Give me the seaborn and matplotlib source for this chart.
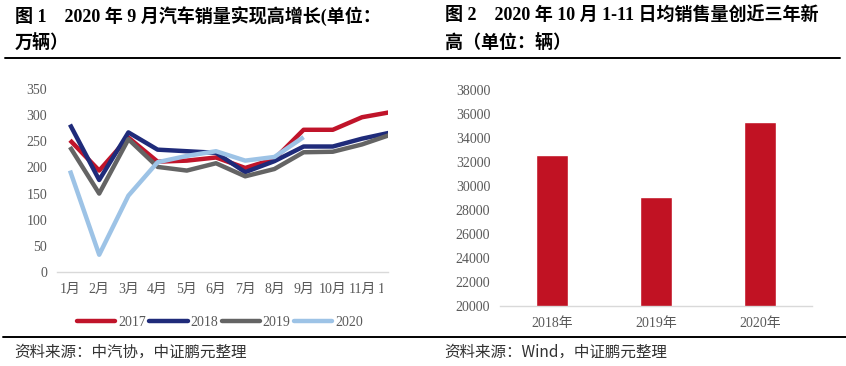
import numpy as np
import pandas as pd
import matplotlib
matplotlib.use("Agg")
import matplotlib.pyplot as plt
import seaborn as sns
from matplotlib.transforms import offset_copy, Bbox, TransformedBbox
from matplotlib.lines import Line2D

# ---------------- data ----------------
months = ["1月", "2月", "3月", "4月", "5月", "6月", "7月", "8月", "9月", "10月", "11月", "12月"]
years = ["2017", "2018", "2019", "2020"]
sales_2017 = [252, 194, 257, 211, 213, 219, 199, 216, 272, 272, 296, 306]
sales_2018 = [282, 176, 267, 234, 231, 228, 191, 212, 240, 240, 255, 267]
sales_2019 = [239, 150, 254, 201, 194, 208, 183, 197, 229, 230, 244, 263]
sales_2020 = [194, 33, 146, 210, 222, 231, 213, 220, 258]

bar_years = ["2018年", "2019年", "2020年"]
bar_values = [32600, 29100, 35300]

title1_l1 = "图 1　2020 年 9 月汽车销量实现高增长(单位："
title1_l2 = "万辆）"
title2_l1 = "图 2　2020 年 10 月 1-11 日均销售量创近三年新"
title2_l2 = "高（单位：辆）"
source1 = "资料来源：中汽协，中证鹏元整理"
source2 = "资料来源：Wind，中证鹏元整理"

colors = {"2017": "#C0142A", "2018": "#1F2B7A", "2019": "#646464", "2020": "#9DC3E6"}
bar_color = "#C11223"
tick_color = "#595959"

sns.set_theme(style="white")
plt.rcParams["font.family"] = ["Liberation Serif", "Noto Sans CJK SC", "DejaVu Sans"]
TICKFONT = ["Liberation Serif", "Noto Sans CJK SC"]

W, H = 846, 366
fig = plt.figure(figsize=(W / 100, H / 100), dpi=100)

def fx(px):
    return px / W

def fy(py):
    return 1 - py / H

# ---------------- left line chart ----------------
rows = []
for y, vals in zip(years, [sales_2017, sales_2018, sales_2019, sales_2020]):
    for i, v in enumerate(vals):
        rows.append({"idx": i, "value": v, "year": y})
df = pd.DataFrame(rows)

axL = fig.add_axes([fx(57), fy(272), fx(388) - fx(57), fy(89) - fy(272)])
sns.lineplot(data=df, x="idx", y="value", hue="year", palette=colors,
             linewidth=3.2, ax=axL, legend=False, sort=False)
for ln in axL.lines:
    ln.set_solid_capstyle("butt")
axL.set_xlim(-0.445, 10.89)
axL.set_ylim(0, 350)
axL.set_yticks(range(0, 351, 50))
axL.set_xticks(range(11))
axL.set_xticklabels(months[:11])
axL.set_xlabel("")
axL.set_ylabel("")
for s in ["top", "right", "left"]:
    axL.spines[s].set_visible(False)
axL.spines["bottom"].set_color("#D9D9D9")
axL.spines["bottom"].set_linewidth(1.0)
axL.tick_params(axis="both", length=0, labelsize=10, labelcolor=tick_color)
axL.tick_params(axis="y", pad=7)
axL.tick_params(axis="x", pad=8)
for lab in axL.get_xticklabels() + axL.get_yticklabels():
    lab.set_fontfamily(TICKFONT)

# clipped last month label
t12 = axL.text(11, 0, months[11],
               transform=offset_copy(axL.get_xaxis_transform(), fig=fig, y=-8, units="points"),
               ha="center", va="top", fontsize=10, color=tick_color, family=TICKFONT)
t12.set_clip_box(TransformedBbox(Bbox([[0, 0], [fx(383), 1]]), fig.transFigure))
t12.set_clip_on(True)

handles = [Line2D([0], [0], color=colors[y], lw=3.2) for y in years]
leg = fig.legend(handles, years, loc="center", bbox_to_anchor=(fx(220), fy(322)),
                 ncol=4, frameon=False, handlelength=2.75, handletextpad=0.2,
                 columnspacing=0.25, borderpad=0, prop={"family": TICKFONT, "size": 10})
for t in leg.get_texts():
    t.set_color(tick_color)

# ---------------- right bar chart ----------------
dfb = pd.DataFrame({"year": bar_years, "value": bar_values})
axR = fig.add_axes([fx(500), fy(306), fx(812) - fx(500), fy(90) - fy(306)])
sns.barplot(data=dfb, x="year", y="value", color=bar_color, width=0.31,
            saturation=1, ax=axR)
axR.set_ylim(20000, 38000)
axR.set_yticks(range(20000, 38001, 2000))
axR.set_xlabel("")
axR.set_ylabel("")
for s in ["top", "right", "left"]:
    axR.spines[s].set_visible(False)
axR.spines["bottom"].set_color("#D9D9D9")
axR.spines["bottom"].set_linewidth(1.0)
axR.tick_params(axis="both", length=0, labelsize=10, labelcolor=tick_color)
axR.tick_params(axis="y", pad=7)
axR.tick_params(axis="x", pad=8)
for lab in axR.get_xticklabels() + axR.get_yticklabels():
    lab.set_fontfamily(TICKFONT)

# ---------------- titles, rules, sources ----------------
TITLEFONT = ["Liberation Serif", "Noto Sans CJK SC"]
tkw = dict(fontsize=13, fontweight="bold", family=TITLEFONT, color="black",
           ha="left", va="center")
fig.text(fx(15), fy(16), title1_l1, **tkw)
fig.text(fx(15), fy(43), title1_l2, **tkw)
fig.text(fx(445), fy(16), title2_l1, **tkw)
fig.text(fx(445), fy(43), title2_l2, **tkw)

fig.add_artist(Line2D([fx(5), fx(840)], [fy(57.5), fy(57.5)], color="black", lw=1.4))
fig.add_artist(Line2D([fx(3), fx(846)], [fy(337), fy(337)], color="black", lw=1.4))

skw = dict(fontsize=11.2, family=["Noto Sans CJK SC", "DejaVu Sans"], color="#333333",
           ha="left", va="center")
fig.text(fx(14), fy(352), source1, **skw)
fig.text(fx(444), fy(352), source2, **skw)

fig.savefig("out.png", dpi=100)
